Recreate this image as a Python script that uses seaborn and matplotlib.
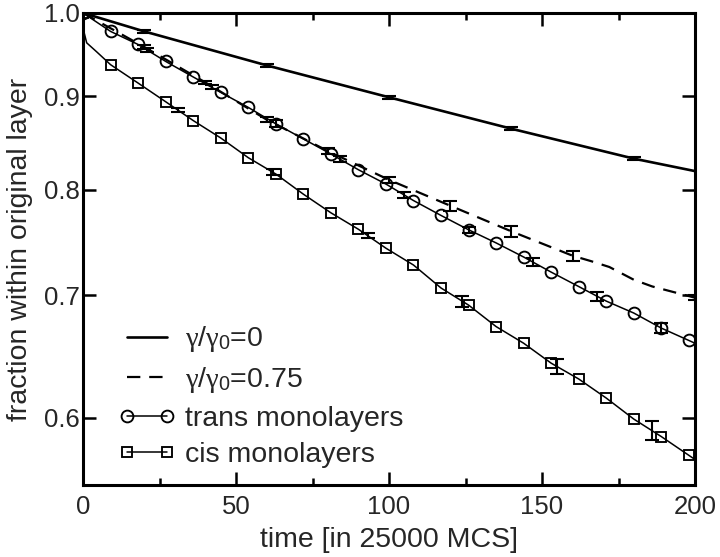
import numpy as np
import pandas as pd
import matplotlib
matplotlib.use("Agg")
import matplotlib.pyplot as plt
import seaborn as sns
from matplotlib.lines import Line2D
from matplotlib.ticker import FixedLocator, NullLocator, FormatStrFormatter, MultipleLocator

# ---------------- data ----------------
t_marks = [0, 9, 18, 27, 36, 45, 54, 63, 72, 81, 90, 99, 108, 117, 126, 135,
           144, 153, 162, 171, 180, 189, 198]
trans_marks = [1.0, 0.977, 0.961, 0.9407, 0.9224, 0.9046, 0.8876, 0.8694, 0.853,
               0.8369, 0.8204, 0.8057, 0.7891, 0.7744, 0.7605, 0.748, 0.7348,
               0.7209, 0.7079, 0.695, 0.6846, 0.6717, 0.6613]
cis_marks = [1.0, 0.9368, 0.9153, 0.894, 0.873, 0.854, 0.833, 0.816, 0.7955,
             0.777, 0.761, 0.743, 0.7274, 0.7066, 0.6915, 0.673, 0.659, 0.6426,
             0.6299, 0.6149, 0.5988, 0.5857, 0.572]
trans_extra_t = [200]
trans_extra = [0.659]
cis_extra_t = [0.4, 1.2, 4.5, 200]
cis_extra = [0.975, 0.963, 0.952, 0.569]

trans_err_t = [21, 42, 63, 84, 105, 126, 147, 168, 189]
trans_err_v = [0.9542, 0.9105, 0.8694, 0.8314, 0.7946, 0.7605, 0.7302, 0.6993, 0.6717]
trans_err = [0.002, 0.002, 0.004, 0.003, 0.003, 0.003, 0.004, 0.004, 0.004]

cis_err_t = [31, 62, 93, 124, 155, 186]
cis_err_v = [0.8847, 0.8179, 0.755, 0.6949, 0.6398, 0.5901]
cis_err = [0.002, 0.003, 0.002, 0.005, 0.006, 0.007]

g0_t = [0, 20, 60, 100, 140, 180, 200]
g0_v = [1.0, 0.977, 0.936, 0.899, 0.864, 0.832, 0.819]
g0_err_t = [20, 60, 100, 140, 180]
g0_err_v = [0.977, 0.936, 0.899, 0.864, 0.832]
g0_err = [0.0015, 0.0015, 0.0015, 0.0015, 0.0015]

g75_t = [0, 20, 40, 60, 80, 100, 120, 140, 160, 166, 172, 180, 186, 200]
g75_v = [1.0, 0.958, 0.916, 0.874, 0.840, 0.810, 0.784, 0.759, 0.736, 0.731,
         0.7256, 0.714, 0.708, 0.698]
g75_err_t = [20, 40, 60, 80, 100, 120, 140, 160, 200]
g75_err_v = [0.958, 0.916, 0.874, 0.840, 0.810, 0.784, 0.759, 0.736, 0.698]
g75_err = [0.002, 0.002, 0.003, 0.003, 0.003, 0.005, 0.005, 0.0045, 0.002]

x_ticks = [0, 50, 100, 150, 200]
y_ticks = [0.6, 0.7, 0.8, 0.9, 1.0]

legend_labels = [r"$\gamma/\gamma_0$=0", r"$\gamma/\gamma_0$=0.75",
                 "trans monolayers", "cis monolayers"]

# ---------------- style ----------------
sns.set_style("ticks")
plt.rcParams["font.family"] = ["Liberation Sans", "DejaVu Sans"]
plt.rcParams["mathtext.fontset"] = "custom"
plt.rcParams["mathtext.rm"] = "Liberation Sans"
plt.rcParams["mathtext.it"] = "Liberation Serif"
plt.rcParams["mathtext.bf"] = "Liberation Sans:bold"
plt.rcParams["font.size"] = 18

fig = plt.figure(figsize=(7.2, 5.57), dpi=100)
ax = fig.add_axes([0.1153, 0.1293, 0.85, 0.8474])

trans_line = pd.DataFrame({"t": t_marks + trans_extra_t, "v": trans_marks + trans_extra}).sort_values("t")
cis_line = pd.DataFrame({"t": t_marks + cis_extra_t, "v": cis_marks + cis_extra}).sort_values("t")

# lines
sns.lineplot(x=g0_t, y=g0_v, ax=ax, color="black", lw=1.9, estimator=None, sort=False)
sns.lineplot(x=g75_t, y=g75_v, ax=ax, color="black", lw=1.6, estimator=None,
             sort=False, dashes=False, linestyle=(0, (6, 4)))
sns.lineplot(data=trans_line, x="t", y="v", ax=ax, color="black", lw=1.1,
             estimator=None, sort=False)
sns.lineplot(data=cis_line, x="t", y="v", ax=ax, color="black", lw=1.1,
             estimator=None, sort=False)

# markers
sns.lineplot(x=t_marks, y=trans_marks, ax=ax, color="black", linestyle="none",
             marker="o", markersize=8.5, markerfacecolor="none",
             markeredgecolor="black", markeredgewidth=1.35, estimator=None)
sns.lineplot(x=t_marks, y=cis_marks, ax=ax, color="black", linestyle="none",
             marker="s", markersize=7.8, markerfacecolor="none",
             markeredgecolor="black", markeredgewidth=1.35, estimator=None)

# error bars
for et, ev, ee in [(g0_err_t, g0_err_v, g0_err), (g75_err_t, g75_err_v, g75_err),
                   (trans_err_t, trans_err_v, trans_err), (cis_err_t, cis_err_v, cis_err)]:
    ax.errorbar(et, ev, yerr=ee, fmt="none", ecolor="black", elinewidth=1.5,
                capsize=5, capthick=1.5, clip_on=True)

# axes
ax.set_yscale("log")
ax.set_xlim(0, 200)
ax.set_ylim(0.551, 1.0)
ax.yaxis.set_major_locator(FixedLocator(y_ticks))
ax.yaxis.set_minor_locator(NullLocator())
ax.yaxis.set_major_formatter(FormatStrFormatter("%.1f"))
ax.xaxis.set_major_locator(FixedLocator(x_ticks))
ax.xaxis.set_minor_locator(MultipleLocator(25))
ax.tick_params(which="both", direction="in", top=True, right=True, width=1.8,
               labelsize=18.5, color="black")
ax.tick_params(which="major", length=9.5)
ax.tick_params(which="minor", length=5)
ax.tick_params(axis="y", pad=2)
ax.tick_params(axis="x", pad=7)
for s in ax.spines.values():
    s.set_linewidth(2.2)
    s.set_color("black")

ax.set_xlabel("time [in 25000 MCS]", fontsize=20.5, labelpad=6)
ax.set_ylabel("fraction within original layer", fontsize=20.5, labelpad=8)

# legend
handles = [
    Line2D([], [], color="black", lw=1.9),
    Line2D([], [], color="black", lw=1.6, linestyle=(0, (6, 4))),
    Line2D([], [], color="black", lw=1.1, marker="o", markersize=8.5,
           markerfacecolor="none", markeredgewidth=1.35),
    Line2D([], [], color="black", lw=1.1, marker="s", markersize=7.8,
           markerfacecolor="none", markeredgewidth=1.35),
]
ax.legend(handles, legend_labels, loc="upper left", bbox_to_anchor=(0.058, 0.34),
          frameon=False, fontsize=20.5, numpoints=2, handlelength=2.0,
          handletextpad=0.35, labelspacing=0.37, borderpad=0, borderaxespad=0)

fig.savefig("out.png", dpi=100)
